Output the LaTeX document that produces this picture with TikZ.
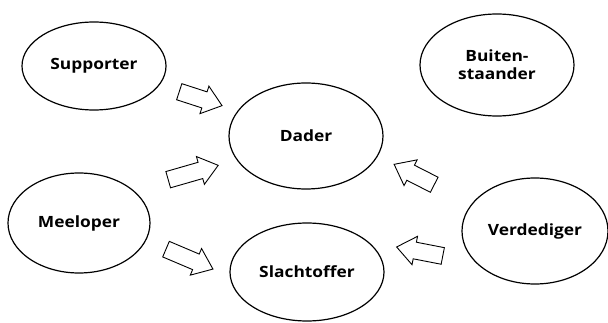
\documentclass[tikz,border=0pt]{standalone}
\usepackage{fontspec}
\setmainfont{Open Sans}
\newfontfamily\rolefont[FakeStretch=1.12]{Open Sans}
\usetikzlibrary{shapes.geometric,shapes.arrows}
\begin{document}
\begin{tikzpicture}[x=1pt,y=-1pt,
  role/.style={ellipse,draw,line width=1.2pt,inner sep=0pt,align=center,
    font=\rolefont\fontsize{15.5}{18}\selectfont\bfseries},
  blockarrow/.style={single arrow,draw,line width=0.9pt,inner xsep=0pt,inner ysep=8pt,
    minimum width=28pt,single arrow head extend=6pt,single arrow head indent=0pt,
    single arrow tip angle=76}]
\useasboundingbox (0,0) rectangle (608,323);
\node[role,minimum width=144pt,minimum height=88pt] (sup) at (94,66) {Supporter};
\node[role,minimum width=154pt,minimum height=106pt] (dader) at (306,136) {Dader};
\node[role,minimum width=142pt,minimum height=100pt] (mee) at (79,223) {Meeloper};
\node[role,minimum width=154pt,minimum height=98pt] (slacht) at (307,272) {Slachtoffer};
\node[role,minimum width=154pt,minimum height=102pt] (buiten) at (497,65) {Buiten-\\staander};
\node[role,minimum width=146pt,minimum height=106pt] (verd) at (535,231) {Verdediger};
\node[blockarrow,minimum height=45pt,rotate=-18] (a1) at (195.5,97) {};
\node[blockarrow,minimum height=52pt,rotate=16] (a2) at (188,174) {};
\node[blockarrow,minimum height=51pt,rotate=-23] (a3) at (184.5,257) {};
\node[blockarrow,minimum height=45pt,rotate=153] (a4) at (419,177) {};
\node[blockarrow,minimum height=47pt,rotate=169] (a5) at (425,252.5) {};
\end{tikzpicture}
\end{document}
